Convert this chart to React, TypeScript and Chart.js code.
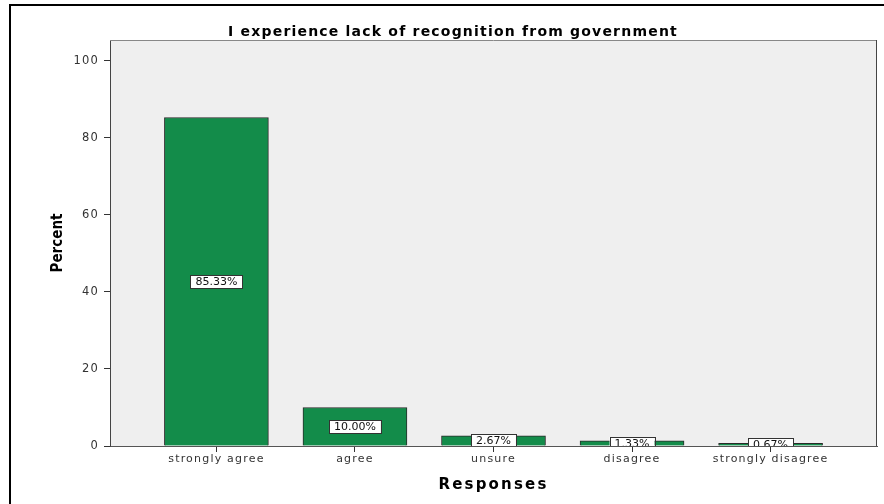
import React, { useEffect, useRef } from "react";
import { Chart, registerables } from "chart.js";

Chart.register(...registerables);

const categories = ["strongly agree", "agree", "unsure", "disagree", "strongly disagree"];
const percents = [85.33, 10.0, 2.67, 1.33, 0.67];
const yTicks = [0, 20, 40, 60, 80, 100];
const chartTitle = "I experience lack of recognition from government";
const xTitle = "Responses";
const yTitle = "Percent";

const framePlugin = {
  id: "spssFrame",
  beforeDraw(chart: any) {
    const { ctx, chartArea: a } = chart;
    ctx.save();
    ctx.fillStyle = "#ffffff";
    ctx.fillRect(0, 0, chart.width, chart.height);
    ctx.fillStyle = "#000";
    ctx.fillRect(9, 4, 2, chart.height);
    ctx.fillRect(9, 4, chart.width, 2);
    ctx.fillStyle = "#efefef";
    ctx.fillRect(a.left, a.top, a.right - a.left, a.bottom - a.top);
    ctx.restore();
    // wide spacing for the axis tick labels
    (ctx as any).letterSpacing = "1.2px";
  },
  afterDatasetsDraw(chart: any) {
    const { ctx, chartArea: a } = chart;
    const meta = chart.getDatasetMeta(0);
    const ys = chart.scales.y;
    ctx.save();
    (ctx as any).letterSpacing = "0px";
    ctx.beginPath();
    ctx.rect(a.left, a.top, a.right - a.left, a.bottom - a.top);
    ctx.clip();
    ctx.font = "11px 'DejaVu Sans'";
    ctx.textAlign = "center";
    ctx.textBaseline = "middle";
    meta.data.forEach((bar: any, i: number) => {
      const v = percents[i];
      const text = v.toFixed(2) + "%";
      const cx = bar.x;
      const cy = ys.getPixelForValue(v / 2);
      const w = ctx.measureText(text).width + 10;
      const h = 13;
      ctx.fillStyle = "#ffffff";
      ctx.fillRect(cx - w / 2, cy - h / 2, w, h);
      ctx.strokeStyle = "#333";
      ctx.lineWidth = 1;
      ctx.strokeRect(Math.round(cx - w / 2) + 0.5, Math.round(cy - h / 2) + 0.5, Math.round(w), h);
      ctx.fillStyle = "#111";
      ctx.fillText(text, cx, cy + 0.5);
    });
    ctx.restore();
  },
  afterDraw(chart: any) {
    const { ctx, chartArea: a } = chart;
    ctx.save();
    ctx.lineWidth = 1;
    ctx.strokeStyle = "#888";
    ctx.beginPath();
    ctx.moveTo(a.left, a.top + 0.5);
    ctx.lineTo(a.right, a.top + 0.5);
    ctx.stroke();
    ctx.strokeStyle = "#444";
    ctx.beginPath();
    ctx.moveTo(a.right - 0.5, a.top);
    ctx.lineTo(a.right - 0.5, a.bottom);
    ctx.stroke();
    ctx.fillStyle = "#000";
    ctx.textAlign = "center";
    ctx.textBaseline = "alphabetic";
    (ctx as any).letterSpacing = "1.2px";
    ctx.font = "bold 14px 'DejaVu Sans'";
    ctx.fillText(chartTitle, 453, 36);
    (ctx as any).letterSpacing = "2.2px";
    ctx.font = "bold 15px 'DejaVu Sans'";
    ctx.fillText(xTitle, (a.left + a.right) / 2, 489);
    (ctx as any).letterSpacing = "0px";
    ctx.translate(62, (a.top + a.bottom) / 2);
    ctx.rotate(-Math.PI / 2);
    ctx.font = "bold 15px 'DejaVu Sans Condensed'";
    ctx.fillText(yTitle, 0, 0);
    ctx.restore();
    (ctx as any).letterSpacing = "0px";
  },
};

export default function App() {
  const ref = useRef<HTMLCanvasElement | null>(null);
  useEffect(() => {
    if (!ref.current) return;
    const chart = new Chart(ref.current, {
      type: "bar",
      data: {
        datasets: [
          {
            data: percents.map((v, i) => ({ x: i, y: v })),
            backgroundColor: "#138c4a",
            borderColor: "#2a2a2a",
            borderWidth: 1,
            barThickness: 104,
          },
        ],
      },
      options: {
        animation: false,
        responsive: false,
        events: [],
        layout: { padding: { left: 0, right: 7, top: 40, bottom: 0 } },
        plugins: { legend: { display: false }, title: { display: false }, tooltip: { enabled: false } },
        scales: {
          x: {
            type: "linear",
            min: -0.768,
            max: 4.768,
            offset: false,
            afterBuildTicks: (s: any) => {
              s.ticks = categories.map((_, i) => ({ value: i }));
            },
            afterFit: (s: any) => {
              s.height = 58;
            },
            ticks: {
              callback: (v: any) => categories[Math.round(v)] ?? "",
              color: "#333",
              font: { family: "'DejaVu Sans'", size: 11 },
              padding: 1,
              maxRotation: 0,
              autoSkip: false,
            },
            grid: { offset: false, drawOnChartArea: false, drawTicks: true, tickLength: 6, color: "#333" },
            border: { display: true, color: "#555", width: 1 },
          },
          y: {
            type: "linear",
            min: 0,
            max: 105.45,
            afterBuildTicks: (s: any) => {
              s.ticks = yTicks.map((v) => ({ value: v }));
            },
            afterFit: (s: any) => {
              s.width = 110;
            },
            ticks: {
              color: "#333",
              font: { family: "'DejaVu Sans'", size: 11.5 },
              padding: 5,
            },
            grid: { drawOnChartArea: false, drawTicks: true, tickLength: 6, color: "#333" },
            border: { display: true, color: "#444", width: 1 },
          },
        },
      },
      plugins: [framePlugin],
    });
    return () => chart.destroy();
  }, []);
  return (
    <div style={{ position: "fixed", left: 0, top: 0, width: 884, height: 504, background: "#fff" }}>
      <canvas ref={ref} width={884} height={504} style={{ display: "block", width: 884, height: 504 }} />
    </div>
  );
}
